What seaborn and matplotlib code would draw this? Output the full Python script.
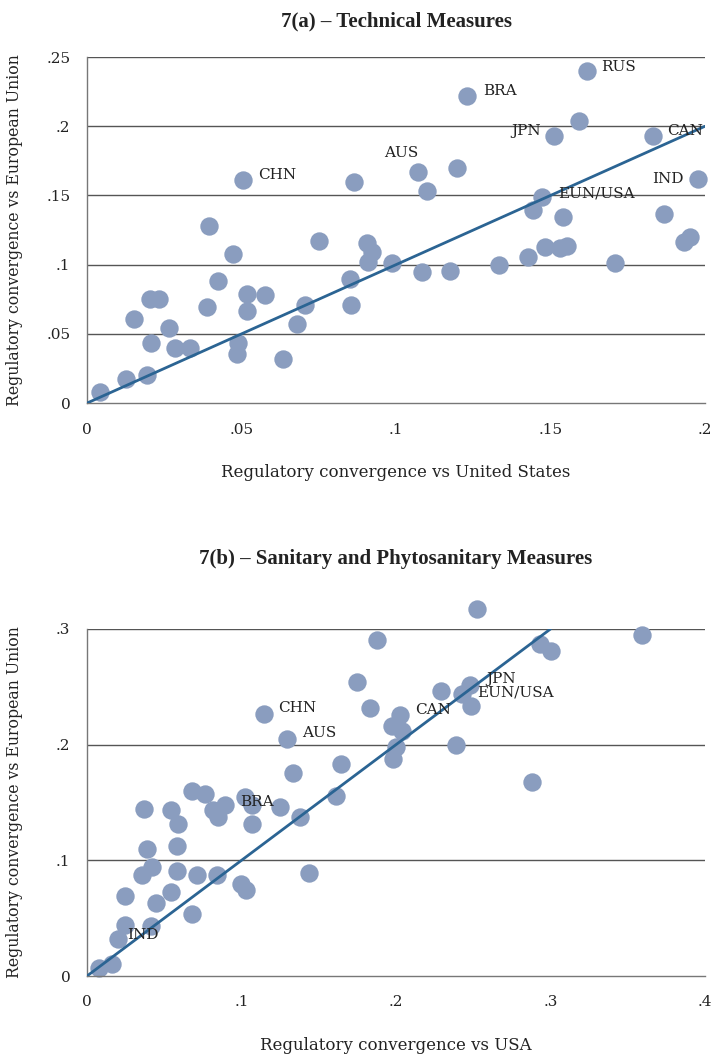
import matplotlib
matplotlib.use("Agg")
import matplotlib.pyplot as plt
import numpy as np
import pandas as pd
import seaborn as sns

# ---- 7(a) Technical measures: convergence vs US (x) and vs EU (y) ----
tbt_vs_us = [0.0042, 0.0125, 0.0193, 0.0152, 0.0204, 0.0233, 0.0207, 0.0265, 0.0285, 0.0333,
             0.0387, 0.0395, 0.0424, 0.0472, 0.0489, 0.0485, 0.0518, 0.0518, 0.0504, 0.0576,
             0.0634, 0.0679, 0.0705, 0.0750, 0.0851, 0.0854, 0.0864, 0.0905, 0.0922, 0.0909,
             0.0987, 0.1071, 0.1099, 0.1083, 0.1197, 0.1175, 0.1230, 0.1333, 0.1427, 0.1443,
             0.1472, 0.1482, 0.1540, 0.1531, 0.1553, 0.1511, 0.1592, 0.1617, 0.1709, 0.1832,
             0.1867, 0.1932, 0.1951, 0.1977]
tbt_vs_eu = [0.0082, 0.0176, 0.0202, 0.0605, 0.0751, 0.0751, 0.0431, 0.0540, 0.0400, 0.0400,
             0.0696, 0.1281, 0.0884, 0.1077, 0.0436, 0.0354, 0.0788, 0.0665, 0.1611, 0.0780,
             0.0316, 0.0571, 0.0706, 0.1173, 0.0898, 0.0706, 0.1597, 0.1154, 0.1091, 0.1021,
             0.1014, 0.1669, 0.1534, 0.0949, 0.1698, 0.0954, 0.2220, 0.0997, 0.1055, 0.1395,
             0.1488, 0.1129, 0.1342, 0.1122, 0.1134, 0.1931, 0.2040, 0.2401, 0.1012, 0.1931,
             0.1368, 0.1165, 0.1199, 0.1621]
tbt_labels = {18: "CHN", 31: "AUS", 36: "BRA", 40: "EUN/USA", 45: "JPN", 47: "RUS", 49: "CAN", 53: "IND"}

# ---- 7(b) Sanitary and phytosanitary measures ----
sps_vs_us = [0.0080, 0.0162, 0.0201, 0.0246, 0.0414, 0.0246, 0.0447, 0.0544, 0.0680, 0.0354,
             0.0421, 0.0581, 0.0714, 0.0841, 0.0390, 0.0581, 0.0999, 0.1027, 0.1435, 0.0587,
             0.0369, 0.0546, 0.0680, 0.0762, 0.0816, 0.0893, 0.0851, 0.1023, 0.1066, 0.1066,
             0.1249, 0.1379, 0.1333, 0.1144, 0.1293, 0.1644, 0.1610, 0.1875, 0.1750, 0.1830,
             0.2026, 0.1974, 0.2039, 0.2000, 0.1981, 0.2388, 0.2880, 0.2293, 0.2479, 0.2427,
             0.2485, 0.2522, 0.2934, 0.3005, 0.3592]
sps_vs_eu = [0.0073, 0.0104, 0.0316, 0.0445, 0.0432, 0.0694, 0.0627, 0.0726, 0.0532, 0.0869,
             0.0945, 0.0908, 0.0873, 0.0873, 0.1094, 0.1128, 0.0795, 0.0743, 0.0893, 0.1314,
             0.1444, 0.1435, 0.1602, 0.1573, 0.1435, 0.1478, 0.1375, 0.1548, 0.1478, 0.1314,
             0.1461, 0.1375, 0.1755, 0.2262, 0.2049, 0.1835, 0.1556, 0.2905, 0.2544, 0.2317,
             0.2256, 0.2161, 0.2118, 0.1980, 0.1876, 0.1997, 0.1677, 0.2464, 0.2516, 0.2438,
             0.2334, 0.3170, 0.2868, 0.2810, 0.2945]
sps_labels = {2: "IND", 25: "BRA", 33: "CHN", 34: "AUS", 40: "CAN", 48: "JPN", 49: "EUN/USA", 51: "RUS"}

# 45-degree reference lines
diag_top = [0.0, 0.2]
diag_bottom = [0.0, 0.3]

top_xticks = [0, 0.05, 0.1, 0.15, 0.2]
top_xticklabels = ["0", ".05", ".1", ".15", ".2"]
top_yticks = [0, 0.05, 0.1, 0.15, 0.2, 0.25]
top_yticklabels = ["0", ".05", ".1", ".15", ".2", ".25"]
bot_xticks = [0, 0.1, 0.2, 0.3, 0.4]
bot_xticklabels = ["0", ".1", ".2", ".3", ".4"]
bot_yticks = [0, 0.1, 0.2, 0.3]
bot_yticklabels = ["0", ".1", ".2", ".3"]

# label offsets in pixels (dx, dy, horizontal alignment)
top_offsets = {"CHN": (15, 5, "left"), "AUS": (0, 19, "right"), "BRA": (16, 5, "left"),
               "EUN/USA": (16, 4, "left"), "JPN": (-13, 5, "right"), "RUS": (14, 4, "left"),
               "CAN": (14, 5, "left"), "IND": (-14, 0, "right")}
bot_offsets = {"IND": (9, 4, "left"), "BRA": (15, 3, "left"), "CHN": (14, 6, "left"),
               "AUS": (15, 6, "left"), "CAN": (15, 5, "left"), "JPN": (16, 6, "left"),
               "EUN/USA": (15, 1, "left"), "RUS": (10, 1, "left")}

sns.set_theme(style="white")
plt.rcParams["font.family"] = ["DejaVu Serif"]

POINT = "#8a9dbf"
LINE = "#2b6493"
TEXT = "#222222"
GRID = "#555555"

fig = plt.figure(figsize=(7.13, 10.58), dpi=100)
ax_top = fig.add_axes([0.122, 0.619, 0.8668, 0.3271])
ax_bot = fig.add_axes([0.122, 0.0775, 0.8668, 0.3280])


def draw_panel(ax, xs, ys, labels, offsets, diag, xticks, xtl, yticks, ytl, xlabel):
    df = pd.DataFrame({"x": xs, "y": ys})
    for y in yticks[1:]:
        ax.axhline(y, color=GRID, lw=1.0, zorder=0)
    sns.scatterplot(data=df, x="x", y="y", ax=ax, color=POINT, s=175,
                    linewidth=0, alpha=1, zorder=2, clip_on=False, legend=False)
    sns.lineplot(x=diag, y=diag, ax=ax, color=LINE, lw=2.0, zorder=3)
    for i, name in labels.items():
        dx, dy, ha = offsets[name]
        ax.annotate(name, (xs[i], ys[i]), xytext=(dx, dy), textcoords="offset pixels",
                    ha=ha, va="center", fontsize=11, color=TEXT, zorder=4)
    ax.set_xlim(xticks[0], xticks[-1])
    ax.set_ylim(yticks[0], yticks[-1])
    ax.set_xticks(xticks)
    ax.set_xticklabels(xtl)
    ax.set_yticks(yticks)
    ax.set_yticklabels(ytl)
    ax.tick_params(axis="both", which="both", length=6, width=1, color="#777777",
                   labelsize=11, labelcolor=TEXT, direction="out", pad=6)
    ax.tick_params(axis="x", pad=8)
    for side in ("top", "right"):
        ax.spines[side].set_visible(False)
    ax.spines["left"].set_color("#777777")
    ax.spines["bottom"].set_color("#777777")
    ax.spines["left"].set_linewidth(1)
    ax.spines["bottom"].set_linewidth(1)
    ax.set_xlabel(xlabel, fontsize=12, color=TEXT, labelpad=20)
    ax.set_ylabel("Regulatory convergence vs European Union", fontsize=11.3,
                  color=TEXT, va="center")
    ax.yaxis.set_label_coords(-0.118, 0.5)


draw_panel(ax_top, tbt_vs_us, tbt_vs_eu, tbt_labels, top_offsets, diag_top,
           top_xticks, top_xticklabels, top_yticks, top_yticklabels,
           "Regulatory convergence vs United States")
draw_panel(ax_bot, sps_vs_us, sps_vs_eu, sps_labels, bot_offsets, diag_bottom,
           bot_xticks, bot_xticklabels, bot_yticks, bot_yticklabels,
           "Regulatory convergence vs USA")

title_kw = dict(ha="center", va="center", fontsize=15, fontweight="bold", color=TEXT,
                family=["Liberation Serif"])
fig.text(0.5555, 0.980, "7(a) \u2013 Technical Measures", **title_kw)
fig.text(0.5555, 0.4717, "7(b) \u2013 Sanitary and Phytosanitary Measures", **title_kw)

fig.savefig("out.png", dpi=100)
